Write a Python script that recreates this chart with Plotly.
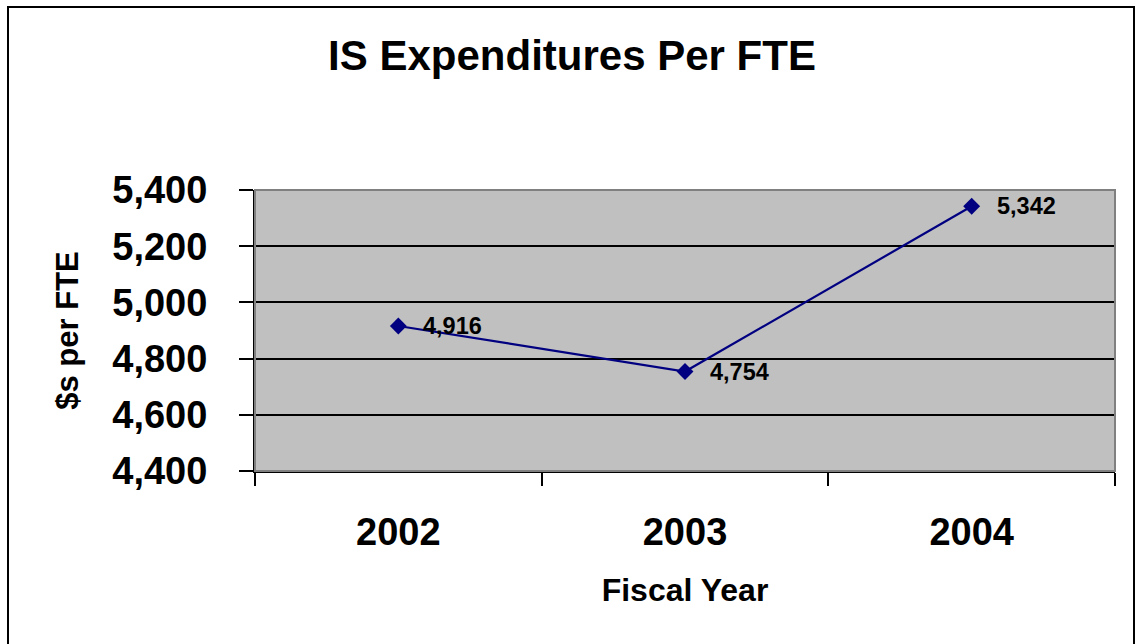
import plotly.graph_objects as go

years = ["2002", "2003", "2004"]
values = [4916, 4754, 5342]
value_labels = ["4,916", "4,754", "5,342"]
y_ticks = [4400, 4600, 4800, 5000, 5200, 5400]
y_ticktext = ["4,400", "4,600", "4,800", "5,000", "5,200", "5,400"]

W, H = 1136, 644
L, R, T, B = 255, 21, 190, 173
pw, ph = W - L - R, H - T - B

def px_x(px):
    return (px - L) / pw

def px_y(py):
    return (H - B - py) / ph

FONT = "Liberation Sans, Arial, sans-serif"

fig = go.Figure()
fig.add_trace(go.Scatter(
    x=years, y=values, mode="lines+markers",
    line=dict(color="#000080", width=2.2),
    marker=dict(symbol="diamond", size=13, color="#000080"),
    hoverinfo="skip", showlegend=False,
))

for i, (v, t) in enumerate(zip(values, value_labels)):
    fig.add_annotation(x=i, y=v, text=t, showarrow=False,
                       xanchor="left", yanchor="middle", xshift=23, yshift=0,
                       font=dict(family=FONT, size=23.5, color="black", weight="bold"))

# plot-area gray border (top/right)
fig.add_shape(type="rect", xref="paper", yref="paper", x0=0, x1=1, y0=0, y1=1,
              line=dict(color="#808080", width=2), layer="above")
# figure border
fig.add_shape(type="rect", xref="paper", yref="paper",
              x0=px_x(8), x1=px_x(1134), y0=px_y(660), y1=px_y(7),
              line=dict(color="black", width=2), layer="above")

fig.update_layout(
    width=W, height=H,
    margin=dict(l=L, r=R, t=T, b=B, autoexpand=False),
    paper_bgcolor="white", plot_bgcolor="#C0C0C0",
    title=dict(text="IS Expenditures Per FTE", x=572 / W, xanchor="center",
               y=1 - 55 / H, yanchor="middle", xref="container", yref="container",
               font=dict(family=FONT, size=42, color="black", weight="bold")),
    font=dict(family=FONT, color="black"),
)

fig.update_xaxes(
    type="category", range=[-0.5, 2.5],
    showline=True, linecolor="black", linewidth=2,
    ticks="outside", tickson="boundaries", ticklen=13, tickwidth=2, tickcolor="black",
    showgrid=False, ticklabelstandoff=26,
    tickfont=dict(family=FONT, size=38, color="black", weight="bold"),
    title=dict(text="Fiscal Year", standoff=27,
               font=dict(family=FONT, size=32, color="black", weight="bold")),
    layer="above traces",
)
fig.update_yaxes(
    range=[4400, 5400], tickvals=y_ticks, ticktext=y_ticktext,
    showline=True, linecolor="black", linewidth=2,
    ticks="outside", ticklen=14, tickwidth=2, tickcolor="black",
    showgrid=True, gridcolor="black", gridwidth=2, zeroline=False,
    ticklabelstandoff=24,
    tickfont=dict(family=FONT, size=38, color="black", weight="bold"),
    title=dict(text="$s per FTE", standoff=24,
               font=dict(family=FONT, size=31, color="black", weight="bold")),
)

fig.write_html("out.html", config={"displayModeBar": False},
               post_script="document.body.style.margin='0';document.body.style.padding='0';document.body.style.overflow='hidden';")
